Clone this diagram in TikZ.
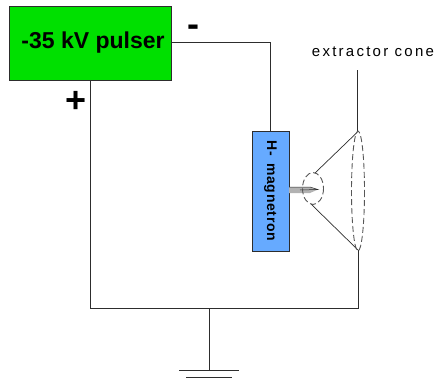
\documentclass[tikz,border=0pt]{standalone}
\usepackage{fontspec}
\setmainfont{Liberation Sans}
\definecolor{pulsergreen}{RGB}{0,224,0}
\definecolor{magnetblue}{RGB}{102,170,255}
\definecolor{wiregray}{RGB}{45,45,45}
\tikzset{box/.style = {shape=rectangle,draw=wiregray,line width=0.9pt,inner sep=0pt}}
\tikzset{wire/.style = {draw=wiregray,line width=0.9pt}}
\tikzset{rim/.style = {draw=wiregray!80,line width=0.9pt,dash pattern=on 6pt off 3pt}}
\begin{document}
\begin{tikzpicture}[x=1pt,y=-1pt]
\useasboundingbox (0,0) rectangle (436,381);

\node[box,fill=pulsergreen,minimum width=162pt,minimum height=74pt] (pulser) at (90,43)
  {\hspace{6pt}\bfseries\fontsize{23}{25}\selectfont -35 kV pulser};
\node[box,fill=magnetblue,minimum width=37pt,minimum height=120pt] (magnetron) at (270.5,191)
  {\rotatebox{-90}{\bfseries\fontsize{14}{16}\selectfont\addfontfeature{LetterSpace=5}H- \,magnetron}};

\node (minus) at (193,31) {\bfseries\fontsize{36}{38}\selectfont -};
\node (plus) at (76,102) {\bfseries\fontsize{36}{38}\selectfont +};
\node (conelabel) at (373,52) {\fontsize{15}{17}\selectfont\addfontfeature{LetterSpace=15}extractor cone};

\coordinate (conetop) at (357.5,132);
\coordinate (conebot) at (358,250);
\coordinate (throattop) at (315,173);
\coordinate (throatbot) at (311,204);
\coordinate (leadtop) at (357.5,70);
\coordinate (corner) at (90,308);
\coordinate (return) at (358,308);
\coordinate (tap) at (209,308);
\coordinate (earth) at (209,370);
\coordinate (bar1a) at (179,370);
\coordinate (bar1b) at (239,370);
\coordinate (bar2a) at (186,377);
\coordinate (bar2b) at (232,377);
\coordinate (bend) at (270.5,42);

% needle
\fill[gray!60] (289,187) -- (310,187) -- (318,189.5) -- (310,193) -- (289,193) -- cycle;
\draw[wire,line width=0.5pt] (289,187) -- (310,187) -- (318,189.5) -- (300,190);

\draw[wire] (bend -| pulser.east) -- (bend) -- (magnetron.north);
\draw[wire] (pulser.south) -- (corner) -- (return) -- (conebot);
\draw[wire] (leadtop) -- (conetop);
\draw[wire,line width=0.7pt] (conetop) -- (throattop);
\draw[wire,line width=0.7pt] (conebot) -- (throatbot);
\draw[wire] (tap) -- (earth);
\draw[wire] (bar1a) -- (bar1b);
\draw[wire] (bar2a) -- (bar2b);

% cone ends
\draw[rim] (313,188.5) ellipse (10.5 and 16);
\draw[rim] (358,191) ellipse (6.5 and 60);

\end{tikzpicture}
\end{document}
